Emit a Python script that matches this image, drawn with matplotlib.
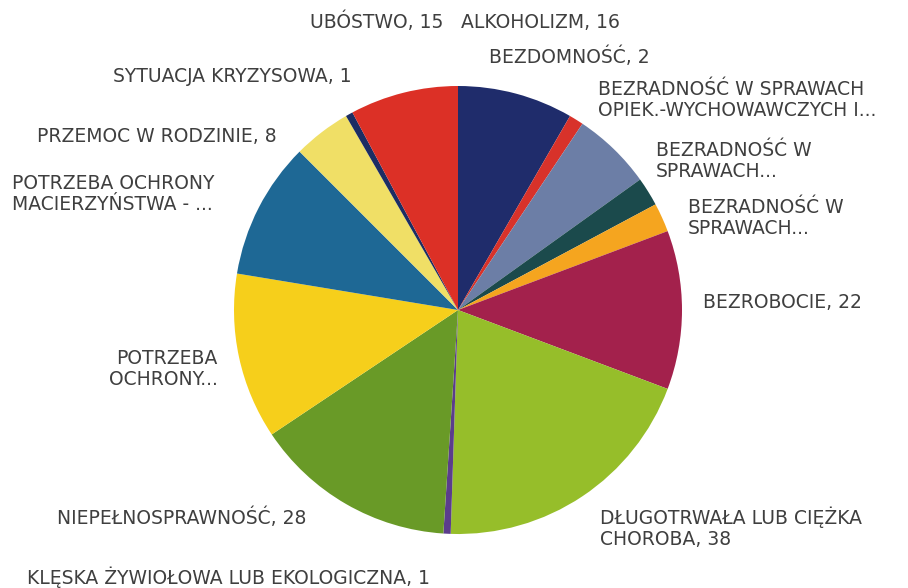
import matplotlib
matplotlib.use("Agg")
import matplotlib.pyplot as plt

# data, in chart order (clockwise from 12 o'clock)
categories = [
    "ALKOHOLIZM", "BEZDOMNOŚĆ",
    "BEZRADNOŚĆ W SPRAWACH\nOPIEK.-WYCHOWAWCZYCH I...",
    "BEZRADNOŚĆ W\nSPRAWACH...", "BEZRADNOŚĆ W\nSPRAWACH...",
    "BEZROBOCIE", "DŁUGOTRWAŁA LUB CIĘŻKA\nCHOROBA",
    "KLĘSKA ŻYWIOŁOWA LUB EKOLOGICZNA", "NIEPEŁNOSPRAWNOŚĆ",
    "POTRZEBA\nOCHRONY...", "POTRZEBA OCHRONY\nMACIERZYŃSTWA - ...",
    "PRZEMOC W RODZINIE", "SYTUACJA KRYZYSOWA", "UBÓSTWO",
]
values = [16, 2, 11, 4, 4, 22, 38, 1, 28, 23, 19, 8, 1, 15]
# labels whose value was cut off in the original
show_value = [True, True, False, False, False, True, True, True, True,
              False, False, True, True, True]

colors = ["#1f2c6b", "#d8322a", "#6c7ea6", "#1b4a4c", "#f5a51f", "#a3214c",
          "#96be2a", "#5b3d8c", "#699a27", "#f6cf1b", "#1e6895", "#f0df66",
          "#1c2d63", "#dc3026"]

# label anchor (pixel x, pixel y from top, alignment)
label_pos = [
    (461, 22, "left"), (489, 57, "left"), (598, 100, "left"),
    (656, 161, "left"), (688, 218, "left"), (703, 303, "left"),
    (600, 528, "left"), (27, 577, "left"), (57, 518, "left"),
    (218, 369, "right"), (12, 194, "left"), (37, 136, "left"),
    (113, 77, "left"), (310, 22, "left"),
]

W, H = 908, 588
fig = plt.figure(figsize=(W / 100, H / 100), dpi=100)
ax = fig.add_axes([0, 0, 1, 1])

ax.pie(values, colors=colors, startangle=90, counterclock=False,
       center=(458, H - 310), radius=224,
       wedgeprops=dict(linewidth=0))
ax.set_xlim(0, W)
ax.set_ylim(0, H)
ax.set_aspect("equal")
ax.axis("off")

for cat, v, sv, (x, y, ha) in zip(categories, values, show_value, label_pos):
    txt = f"{cat}, {v}" if sv else cat
    ax.text(x, H - y, txt, ha=ha, va="center", multialignment=ha,
            fontsize=13.5, color="#3f3f3f", family="DejaVu Sans",
            linespacing=1.1)

fig.savefig("out.png", dpi=100)
